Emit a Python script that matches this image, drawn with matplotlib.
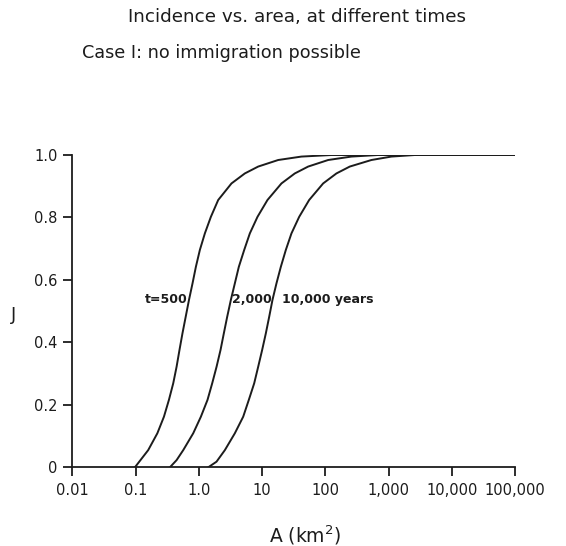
import numpy as np
import matplotlib
matplotlib.use('Agg')
import matplotlib.pyplot as plt

# values: log10(A in km^2) and J
J_levels = [0.0, 0.055, 0.109, 0.162, 0.216, 0.269, 0.322, 0.376, 0.429, 0.482,
            0.536, 0.589, 0.642, 0.696, 0.749, 0.802, 0.856, 0.909, 0.941, 0.963,
            0.984, 0.995, 1.0, 1.0]

logA_500 = [-1.01, -0.80, -0.655, -0.551, -0.472, -0.404, -0.351, -0.305, -0.258, -0.207,
            -0.155, -0.099, -0.046, 0.017, 0.096, 0.191, 0.307, 0.517, 0.728, 0.939,
            1.255, 1.623, 2.097, 5.0]
logA_2000 = [-0.457, -0.246, -0.088, 0.033, 0.138, 0.212, 0.281, 0.344, 0.396, 0.449,
             0.507, 0.570, 0.633, 0.718, 0.807, 0.928, 1.086, 1.307, 1.518, 1.729,
             2.045, 2.413, 2.834, 5.0]
logA_10000 = [0.149, 0.412, 0.570, 0.702, 0.791, 0.876, 0.939, 1.002, 1.060, 1.113,
              1.165, 1.228, 1.297, 1.376, 1.465, 1.587, 1.745, 1.966, 2.176, 2.387,
              2.729, 3.045, 3.414, 5.0]

# extra points where curves 2 and 3 leave the axis
foot_2000 = (-0.351, 0.023)
foot_10000 = (0.28, 0.018)

xticks = [0.01, 0.1, 1.0, 10, 100, 1000, 10000, 100000]
xlabels = ['0.01', '0.1', '1.0', '10', '100', '1,000', '10,000', '100,000']
yticks = [0, 0.2, 0.4, 0.6, 0.8, 1.0]
ylabels = ['0', '0.2', '0.4', '0.6', '0.8', '1.0']

ink = '#1c1c1c'
fig = plt.figure(figsize=(5.66, 5.46), dpi=100)
ax = fig.add_axes([0.1277, 0.1441, 0.7823, 0.572])

curves = [
    (logA_500, J_levels),
    (logA_2000[:1] + [foot_2000[0]] + logA_2000[1:], J_levels[:1] + [foot_2000[1]] + J_levels[1:]),
    (logA_10000[:1] + [foot_10000[0]] + logA_10000[1:], J_levels[:1] + [foot_10000[1]] + J_levels[1:]),
]
for lx, j in curves:
    ax.plot(10 ** np.array(lx), j, color=ink, lw=1.4, solid_joinstyle='round')

ax.set_xscale('log')
ax.set_xlim(0.01, 1e5)
ax.set_ylim(0, 1.0)
ax.set_xticks(xticks)
ax.set_xticklabels(xlabels)
ax.minorticks_off()
ax.set_yticks(yticks)
ax.set_yticklabels(ylabels)
for s in ['top', 'right']:
    ax.spines[s].set_visible(False)
for s in ['left', 'bottom']:
    ax.spines[s].set_linewidth(1.3)
    ax.spines[s].set_color(ink)
ax.tick_params(direction='out', length=6.5, width=1.3, color=ink,
               labelsize=10.5, labelcolor=ink)
ax.tick_params(axis='x', pad=5)
ax.tick_params(axis='y', pad=4)

ax.text(0.67, 0.536, 't=500', ha='right', va='center', fontsize=9, fontweight='bold', color=ink)
ax.text(3.4, 0.536, '2,000', ha='left', va='center', fontsize=9, fontweight='bold', color=ink)
ax.text(21, 0.536, '10,000 years', ha='left', va='center', fontsize=9, fontweight='bold', color=ink)

fig.text(14 / 566, 1 - 315 / 546, 'J', ha='center', va='center', fontsize=13, color=ink)
fig.text(305 / 566, 1 - 535 / 546, 'A (km$^2$)', ha='center', va='center', fontsize=13.5, color=ink)
fig.text(297 / 566, 1 - 17 / 546, 'Incidence vs. area, at different times',
         ha='center', va='center', fontsize=13.2, color=ink)
fig.text(82 / 566, 1 - 53 / 546, 'Case I: no immigration possible',
         ha='left', va='center', fontsize=12.7, color=ink)

plt.savefig('out.png', dpi=100)
